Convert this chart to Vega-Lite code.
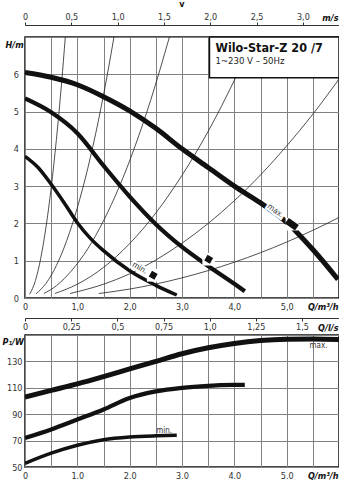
{
  "$schema": "https://vega.github.io/schema/vega-lite/v6.json",
  "autosize": {"type": "pad"},
  "padding": {"left": 1, "top": 0, "right": 0, "bottom": 0},
  "background": "white",
  "spacing": 11,
  "bounds": "flush",
  "config": {
    "font": "'Liberation Sans Narrow', 'DejaVu Sans Condensed', sans-serif",
    "view": {"stroke": "#111", "strokeWidth": 1.5},
    "axis": {
      "labelFont": "'Liberation Sans Narrow', 'DejaVu Sans Condensed', sans-serif",
      "titleFont": "'Liberation Sans Narrow', 'DejaVu Sans Condensed', sans-serif",
      "labelFontSize": 9,
      "labelColor": "#333",
      "titleFontSize": 9,
      "titleColor": "#111",
      "gridColor": "#808080",
      "gridWidth": 1,
      "gridOpacity": 1,
      "labelOverlap": false,
      "labelFlush": false
    },
    "title": {"font": "'Liberation Sans Narrow', 'DejaVu Sans Condensed', sans-serif"}
  },
  "datasets": {
    "system": [
      {"k": "a", "Q": 0.09, "H": 0.1}, {"k": "a", "Q": 0.2, "H": 0.47}, {"k": "a", "Q": 0.3, "H": 1.06}, {"k": "a", "Q": 0.4, "H": 1.89}, {"k": "a", "Q": 0.5, "H": 2.95}, {"k": "a", "Q": 0.6, "H": 4.25}, {"k": "a", "Q": 0.7, "H": 5.78}, {"k": "a", "Q": 0.77, "H": 7.0},
      {"k": "b", "Q": 0.21, "H": 0.11}, {"k": "b", "Q": 0.4, "H": 0.39}, {"k": "b", "Q": 0.6, "H": 0.87}, {"k": "b", "Q": 0.8, "H": 1.55}, {"k": "b", "Q": 1.0, "H": 2.42}, {"k": "b", "Q": 1.2, "H": 3.48}, {"k": "b", "Q": 1.4, "H": 4.74}, {"k": "b", "Q": 1.6, "H": 6.2}, {"k": "b", "Q": 1.7, "H": 7.0},
      {"k": "c", "Q": 0.36, "H": 0.12}, {"k": "c", "Q": 0.6, "H": 0.33}, {"k": "c", "Q": 0.9, "H": 0.75}, {"k": "c", "Q": 1.2, "H": 1.32}, {"k": "c", "Q": 1.5, "H": 2.07}, {"k": "c", "Q": 1.8, "H": 2.98}, {"k": "c", "Q": 2.1, "H": 4.06}, {"k": "c", "Q": 2.4, "H": 5.3}, {"k": "c", "Q": 2.76, "H": 7.0},
      {"k": "d", "Q": 0.57, "H": 0.12}, {"k": "d", "Q": 1.0, "H": 0.37}, {"k": "d", "Q": 1.5, "H": 0.82}, {"k": "d", "Q": 2.0, "H": 1.46}, {"k": "d", "Q": 2.5, "H": 2.28}, {"k": "d", "Q": 3.0, "H": 3.29}, {"k": "d", "Q": 3.5, "H": 4.47}, {"k": "d", "Q": 4.0, "H": 5.84}, {"k": "d", "Q": 4.38, "H": 7.0},
      {"k": "e", "Q": 0.86, "H": 0.12}, {"k": "e", "Q": 1.5, "H": 0.37}, {"k": "e", "Q": 2.0, "H": 0.65}, {"k": "e", "Q": 2.5, "H": 1.02}, {"k": "e", "Q": 3.0, "H": 1.47}, {"k": "e", "Q": 3.5, "H": 2.0}, {"k": "e", "Q": 4.0, "H": 2.61}, {"k": "e", "Q": 4.5, "H": 3.3}, {"k": "e", "Q": 5.0, "H": 4.08}, {"k": "e", "Q": 5.5, "H": 4.93}, {"k": "e", "Q": 6.0, "H": 5.87},
      {"k": "f", "Q": 1.41, "H": 0.12}, {"k": "f", "Q": 2.0, "H": 0.24}, {"k": "f", "Q": 2.5, "H": 0.375}, {"k": "f", "Q": 3.0, "H": 0.54}, {"k": "f", "Q": 3.5, "H": 0.735}, {"k": "f", "Q": 4.0, "H": 0.96}, {"k": "f", "Q": 4.5, "H": 1.215}, {"k": "f", "Q": 5.0, "H": 1.5}, {"k": "f", "Q": 5.5, "H": 1.815}, {"k": "f", "Q": 6.0, "H": 2.16}
    ],
    "head": [
      {"curve": "max", "Q": 0, "H": 6.05}, {"curve": "max", "Q": 0.5, "H": 5.92}, {"curve": "max", "Q": 1.0, "H": 5.72}, {"curve": "max", "Q": 1.5, "H": 5.4}, {"curve": "max", "Q": 2.0, "H": 5.02}, {"curve": "max", "Q": 2.5, "H": 4.55}, {"curve": "max", "Q": 3.0, "H": 4.0}, {"curve": "max", "Q": 3.5, "H": 3.5}, {"curve": "max", "Q": 4.0, "H": 3.0}, {"curve": "max", "Q": 4.5, "H": 2.55}, {"curve": "max", "Q": 5.0, "H": 2.03}, {"curve": "max", "Q": 5.5, "H": 1.3}, {"curve": "max", "Q": 5.98, "H": 0.5},
      {"curve": "mid", "Q": 0, "H": 5.35}, {"curve": "mid", "Q": 0.5, "H": 4.98}, {"curve": "mid", "Q": 1.0, "H": 4.42}, {"curve": "mid", "Q": 1.5, "H": 3.55}, {"curve": "mid", "Q": 2.0, "H": 2.72}, {"curve": "mid", "Q": 2.5, "H": 1.98}, {"curve": "mid", "Q": 3.0, "H": 1.37}, {"curve": "mid", "Q": 3.5, "H": 0.86}, {"curve": "mid", "Q": 4.0, "H": 0.38}, {"curve": "mid", "Q": 4.2, "H": 0.18},
      {"curve": "min", "Q": 0, "H": 3.8}, {"curve": "min", "Q": 0.25, "H": 3.5}, {"curve": "min", "Q": 0.5, "H": 3.05}, {"curve": "min", "Q": 0.75, "H": 2.55}, {"curve": "min", "Q": 1.0, "H": 2.02}, {"curve": "min", "Q": 1.25, "H": 1.6}, {"curve": "min", "Q": 1.5, "H": 1.27}, {"curve": "min", "Q": 2.0, "H": 0.73}, {"curve": "min", "Q": 2.5, "H": 0.34}, {"curve": "min", "Q": 2.9, "H": 0.08}
    ],
    "power": [
      {"curve": "max", "Q": 0, "P": 103}, {"curve": "max", "Q": 0.5, "P": 108}, {"curve": "max", "Q": 1.0, "P": 113}, {"curve": "max", "Q": 1.5, "P": 118.5}, {"curve": "max", "Q": 2.0, "P": 124.3}, {"curve": "max", "Q": 2.5, "P": 130}, {"curve": "max", "Q": 3.0, "P": 135.8}, {"curve": "max", "Q": 3.5, "P": 140.3}, {"curve": "max", "Q": 4.0, "P": 143.6}, {"curve": "max", "Q": 4.5, "P": 145.8}, {"curve": "max", "Q": 5.0, "P": 146.8}, {"curve": "max", "Q": 5.5, "P": 147}, {"curve": "max", "Q": 6.0, "P": 146.5},
      {"curve": "mid", "Q": 0, "P": 72}, {"curve": "mid", "Q": 0.5, "P": 78.5}, {"curve": "mid", "Q": 1.0, "P": 86}, {"curve": "mid", "Q": 1.5, "P": 93.6}, {"curve": "mid", "Q": 2.0, "P": 102.3}, {"curve": "mid", "Q": 2.5, "P": 107.3}, {"curve": "mid", "Q": 3.0, "P": 110}, {"curve": "mid", "Q": 3.5, "P": 111.5}, {"curve": "mid", "Q": 4.0, "P": 112.2}, {"curve": "mid", "Q": 4.2, "P": 112.3},
      {"curve": "min", "Q": 0, "P": 52.8}, {"curve": "min", "Q": 0.5, "P": 60.5}, {"curve": "min", "Q": 1.0, "P": 66.5}, {"curve": "min", "Q": 1.5, "P": 70.7}, {"curve": "min", "Q": 2.0, "P": 72.7}, {"curve": "min", "Q": 2.5, "P": 73.6}, {"curve": "min", "Q": 2.9, "P": 74}
    ]
  },
  "vconcat": [
    {
      "width": 314,
      "height": 1,
      "view": {"stroke": null},
      "title": {"text": "v", "fontSize": 9, "fontWeight": "bold", "anchor": "middle", "offset": 3, "color": "#111"},
      "data": {"values": [{"v": 0}]},
      "mark": {"type": "point", "opacity": 0},
      "encoding": {
        "x": {"field": "v", "type": "quantitative", "scale": {"domain": [0, 3.39], "nice": false, "zero": false},
          "axis": {"orient": "top", "values": [0, 0.5, 1, 1.5, 2, 2.5, 3], "grid": false, "domain": true, "domainColor": "#333", "domainWidth": 1, "ticks": true, "tickSize": 3, "tickColor": "#333", "labelPadding": 1,
            "labelExpr": "datum.value == 0 ? '0' : replace(format(datum.value, '.1f'), '.', ',')",
            "title": "m/s", "titleX": 313, "titleY": -8, "titleAlign": "right", "titleBaseline": "middle", "titleFontStyle": "italic", "titleFontWeight": "bold"}}
      }
    },
    {
      "width": 314,
      "height": 261,
      "encoding": {
        "x": {"field": "Q", "type": "quantitative", "scale": {"domain": [0, 6], "nice": false, "zero": false},
          "axis": {"values": [0, 0.5, 1, 1.5, 2, 2.5, 3, 3.5, 4, 4.5, 5, 5.5, 6], "grid": true, "domain": false, "ticks": false, "tickSize": 0, "labelPadding": 4,
            "labelExpr": "datum.value == 0 ? '0' : ((datum.value % 1 == 0 && datum.value < 6) ? replace(format(datum.value, '.1f'), '.', ',') : '')",
            "title": "Q/m³/h", "titleX": 313, "titleY": 8.5, "titleAlign": "right", "titleBaseline": "middle", "titleFontStyle": "italic", "titleFontWeight": "bold"}},
        "y": {"field": "H", "type": "quantitative", "scale": {"domain": [0, 7], "nice": false},
          "axis": {"values": [0, 1, 2, 3, 4, 5, 6, 7], "grid": true, "domain": false, "ticks": false, "tickSize": 0, "labelPadding": 6.5,
            "labelExpr": "datum.value == 7 ? '' : datum.label",
            "title": "H/m", "titleAngle": 0, "titleX": -20, "titleY": 7, "titleAlign": "left", "titleBaseline": "middle", "titleFontStyle": "italic", "titleFontWeight": "bold"}}
      },
      "layer": [
        {
          "data": {"name": "system"},
          "mark": {"type": "line", "color": "#222", "strokeWidth": 0.8, "interpolate": "monotone", "clip": true},
          "encoding": {"detail": {"field": "k"}}
        },
        {
          "data": {"name": "head"},
          "mark": {"type": "line", "color": "#111", "interpolate": "monotone", "strokeCap": "butt", "clip": true},
          "encoding": {
            "detail": {"field": "curve"},
            "strokeWidth": {"field": "curve", "type": "nominal", "scale": {"domain": ["max", "mid", "min"], "range": [5, 3.5, 4.5]}, "legend": null}
          }
        },
        {
          "data": {"values": [{"Q": 2.45, "H": 0.61}, {"Q": 3.51, "H": 1.04}, {"Q": 5.1, "H": 1.98}]},
          "mark": {"type": "point", "shape": "square", "filled": true, "color": "white", "size": 160, "opacity": 1}
        },
        {
          "data": {"values": [{"Q": 2.45, "H": 0.61}, {"Q": 3.51, "H": 1.04}]},
          "mark": {"type": "point", "shape": "square", "filled": true, "color": "#111", "size": 42, "angle": 30, "opacity": 1}
        },
        {
          "data": {"values": [{"Q": 5.1, "H": 1.98}]},
          "mark": {"type": "point", "shape": "M-1,-0.55L1,-0.55L1,0.55L-1,0.55Z", "filled": true, "color": "#111", "size": 150, "angle": 35, "opacity": 1}
        },
        {
          "data": {"values": [{"Q": 2.19, "H": 0.8, "label": "min."}]},
          "mark": {"type": "text", "angle": 30, "fontSize": 8, "fill": "white", "stroke": "white", "strokeWidth": 4, "align": "center", "baseline": "middle"},
          "encoding": {"text": {"field": "label"}}
        },
        {
          "data": {"values": [{"Q": 2.19, "H": 0.8, "label": "min."}]},
          "mark": {"type": "text", "angle": 30, "fontSize": 8, "fill": "#333", "align": "center", "baseline": "middle"},
          "encoding": {"text": {"field": "label"}}
        },
        {
          "data": {"values": [{"Q": 4.78, "H": 2.33, "label": "max."}]},
          "mark": {"type": "text", "angle": 35, "fontSize": 8, "fill": "white", "stroke": "white", "strokeWidth": 4, "align": "center", "baseline": "middle"},
          "encoding": {"text": {"field": "label"}}
        },
        {
          "data": {"values": [{"Q": 4.78, "H": 2.33, "label": "max."}]},
          "mark": {"type": "text", "angle": 35, "fontSize": 8, "fill": "#333", "align": "center", "baseline": "middle"},
          "encoding": {"text": {"field": "label"}}
        },
        {
          "data": {"values": [{"Q": 3.525, "Q2": 6, "H": 5.91, "H2": 7}]},
          "mark": {"type": "rect", "fill": "white", "stroke": "#111", "strokeWidth": 1.5},
          "encoding": {"x2": {"field": "Q2"}, "y2": {"field": "H2"}}
        },
        {
          "data": {"values": [{"Q": 3.64, "H": 6.7, "label": "Wilo-Star-Z 20 /7"}]},
          "mark": {"type": "text", "fontSize": 12.5, "fontWeight": "bold", "fill": "#111", "align": "left", "baseline": "middle"},
          "encoding": {"text": {"field": "label"}}
        },
        {
          "data": {"values": [{"Q": 3.64, "H": 6.36, "label": "1~230 V – 50Hz"}]},
          "mark": {"type": "text", "fontSize": 9.5, "fill": "#222", "align": "left", "baseline": "middle"},
          "encoding": {"text": {"field": "label"}}
        }
      ]
    },
    {
      "width": 314,
      "height": 15,
      "view": {"stroke": null},
      "data": {"values": [{"ls": 0}]},
      "mark": {"type": "point", "opacity": 0},
      "encoding": {
        "x": {"field": "ls", "type": "quantitative", "scale": {"domain": [0, 1.7], "nice": false, "zero": false},
          "axis": {"orient": "bottom", "offset": -6, "values": [0, 0.25, 0.5, 0.75, 1, 1.25, 1.5], "grid": false, "domain": true, "domainColor": "#333", "domainWidth": 1, "ticks": true, "tickSize": 3, "tickColor": "#333", "labelPadding": 1.5,
            "labelExpr": "datum.value == 0 ? '0' : replace(format(datum.value, (datum.value * 4) % 2 == 1 ? '.2f' : '.1f'), '.', ',')",
            "title": "Q/l/s", "titleX": 313, "titleY": 9, "titleAlign": "right", "titleBaseline": "middle", "titleFontStyle": "italic", "titleFontWeight": "bold"}}
      }
    },
    {
      "width": 314,
      "height": 132,
      "encoding": {
        "x": {"field": "Q", "type": "quantitative", "scale": {"domain": [0, 6], "nice": false, "zero": false},
          "axis": {"values": [0, 0.5, 1, 1.5, 2, 2.5, 3, 3.5, 4, 4.5, 5, 5.5, 6], "grid": true, "domain": false, "ticks": false, "tickSize": 0, "labelPadding": 4,
            "labelExpr": "datum.value == 0 ? '0' : ((datum.value % 1 == 0 && datum.value < 6) ? format(datum.value, '.1f') : '')",
            "title": "Q/m³/h", "titleX": 313, "titleY": 8.7, "titleAlign": "right", "titleBaseline": "middle", "titleFontStyle": "italic", "titleFontWeight": "bold"}},
        "y": {"field": "P", "type": "quantitative", "scale": {"domain": [50, 150], "nice": false, "zero": false},
          "axis": {"values": [50, 70, 90, 110, 130, 150], "grid": true, "domain": false, "ticks": false, "tickSize": 0, "labelPadding": 3,
            "labelExpr": "datum.value == 150 ? '' : datum.label",
            "title": "P₁/W", "titleAngle": 0, "titleX": -23, "titleY": 6, "titleAlign": "left", "titleBaseline": "middle", "titleFontStyle": "italic", "titleFontWeight": "bold"}}
      },
      "layer": [
        {
          "data": {"name": "power"},
          "mark": {"type": "line", "color": "#111", "interpolate": "monotone", "strokeCap": "butt", "clip": true},
          "encoding": {
            "detail": {"field": "curve"},
            "strokeWidth": {"field": "curve", "type": "nominal", "scale": {"domain": ["max", "mid", "min"], "range": [5.5, 3.5, 5]}, "legend": null}
          }
        },
        {
          "data": {"values": [{"Q": 2.66, "P": 77, "label": "min."}]},
          "mark": {"type": "text", "fontSize": 8, "fill": "#333", "align": "center", "baseline": "middle"},
          "encoding": {"text": {"field": "label"}}
        },
        {
          "data": {"values": [{"Q": 5.78, "P": 141.5, "label": "max."}]},
          "mark": {"type": "text", "fontSize": 8, "fill": "#333", "align": "right", "baseline": "middle"},
          "encoding": {"text": {"field": "label"}}
        }
      ]
    }
  ]
}
